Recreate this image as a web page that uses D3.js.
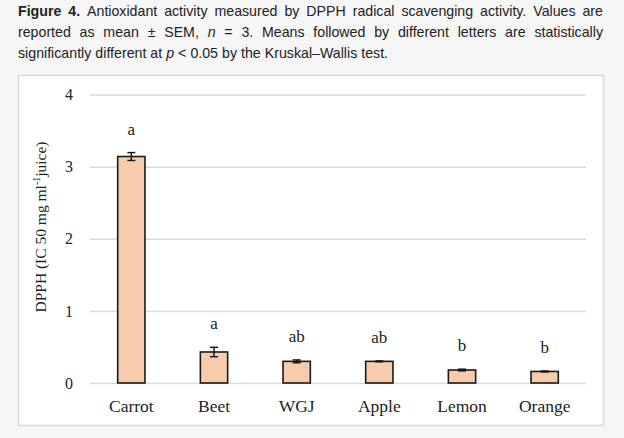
<!DOCTYPE html>
<html><head><meta charset="utf-8">
<script src="https://cdn.jsdelivr.net/npm/d3@7"></script>
<style>
html,body{margin:0;padding:0;background:#f6f6f7;width:624px;height:438px;overflow:hidden;}
svg{position:absolute;left:0;top:0;}
</style></head><body>
<svg id="chart" width="624" height="438"></svg>
<script>
const categories = ["Carrot","Beet","WGJ","Apple","Lemon","Orange"];
const values = [3.14, 0.43, 0.30, 0.30, 0.18, 0.16];
const sem = [0.055, 0.065, 0.02, 0.006, 0.012, 0.006];
const letters = ["a","a","ab","ab","b","b"];
const yTicks = [0,1,2,3,4];
const captionLines = [
  [["Figure","b"],["4.","b"],["Antioxidant"],["activity"],["measured"],["by"],["DPPH"],["radical"],["scavenging"],["activity."],["Values"],["are"]],
  [["reported"],["as"],["mean"],["±"],["SEM,"],["n","i"],["="],["3."],["Means"],["followed"],["by"],["different"],["letters"],["are"],["statistically"]],
  [["significantly"],["different"],["at"],["p","i"],["<"],["0.05"],["by"],["the"],["Kruskal–Wallis"],["test."]]
];

const svg = d3.select("#chart");
const sans = "'Liberation Sans',Arial,sans-serif";
const serif = "'Liberation Serif','Times New Roman',serif";

// caption, justified word by word
const capL = 18, capR = 603, baselines = [16, 37, 58];
captionLines.forEach((words, li) => {
  const t = svg.append("text").attr("y", baselines[li]).attr("font-family", sans)
    .attr("font-size", 14.2).attr("fill", "#222");
  const spans = words.map(w => t.append("tspan").text(w[0])
    .attr("font-weight", w[1] === "b" ? "bold" : null)
    .attr("font-style", w[1] === "i" ? "italic" : null));
  const widths = spans.map(s => s.node().getComputedTextLength());
  const total = d3.sum(widths);
  const justify = li < captionLines.length - 1;
  const gap = justify ? (capR - capL - total) / (words.length - 1) : 4;
  let xp = capL;
  spans.forEach((s, i) => { s.attr("x", xp); xp += widths[i] + gap; });
});

svg.append("rect").attr("x",18.5).attr("y",75.5).attr("width",585).attr("height",350)
  .attr("fill","#fff").attr("stroke","#d8d8d8").attr("stroke-width",1.5);

const x = d3.scaleBand().domain(categories).range([90,586]).paddingInner(0.67).paddingOuter(0.335);
const y = d3.scaleLinear().domain([0,4]).range([383,94.5]);

const g = svg.append("g");
const ya = g.append("g").attr("transform","translate(90,0)")
  .call(d3.axisLeft(y).tickValues(yTicks).tickSize(-496).tickFormat(d3.format("d")));
ya.select(".domain").remove();
ya.selectAll(".tick line").attr("stroke","#d9d9d9").attr("stroke-width",1.5);
ya.selectAll(".tick text").attr("x",-17).attr("font-family",serif).attr("font-size",16).attr("fill","#222");

const xa = g.append("g").attr("transform","translate(0,383)")
  .call(d3.axisBottom(x).tickSize(0));
xa.select(".domain").remove();
xa.selectAll(".tick text").attr("dy",0).attr("y",29).attr("font-family",serif).attr("font-size",17.5).attr("fill","#222");

const data = categories.map((c,i)=>({c,v:values[i],e:sem[i],l:letters[i]}));
g.selectAll(".bar").data(data).join("rect")
  .attr("x",d=>x(d.c)).attr("y",d=>y(d.v)).attr("width",x.bandwidth()).attr("height",d=>y(0)-y(d.v))
  .attr("fill","#f8cbad").attr("stroke","#1a1a1a").attr("stroke-width",1.6);

const eb = g.selectAll(".eb").data(data).join("g");
eb.append("line").attr("x1",d=>x(d.c)+x.bandwidth()/2).attr("x2",d=>x(d.c)+x.bandwidth()/2)
  .attr("y1",d=>y(d.v-d.e)).attr("y2",d=>y(d.v+d.e)).attr("stroke","#111").attr("stroke-width",1.4);
[1,-1].forEach(s=>{
  eb.append("line").attr("x1",d=>x(d.c)+x.bandwidth()/2-4).attr("x2",d=>x(d.c)+x.bandwidth()/2+4)
    .attr("y1",d=>y(d.v+s*d.e)).attr("y2",d=>y(d.v+s*d.e)).attr("stroke","#111").attr("stroke-width",1.4);
});
g.selectAll(".lt").data(data).join("text")
  .attr("x",d=>x(d.c)+x.bandwidth()/2).attr("y",d=>y(d.v+d.e)-18)
  .attr("text-anchor","middle").attr("font-family",serif).attr("font-size",17).attr("fill","#222").text(d=>d.l);

const t = g.append("text").attr("transform","translate(46,227) rotate(-90)")
  .attr("text-anchor","middle").attr("font-family",serif).attr("font-size",15.5).attr("fill","#222");
t.append("tspan").text("DPPH (IC 50 mg ml");
t.append("tspan").attr("dy",-6).attr("font-size",10).text("-1");
t.append("tspan").attr("dy",6).text("juice)");
</script>
</body></html>
